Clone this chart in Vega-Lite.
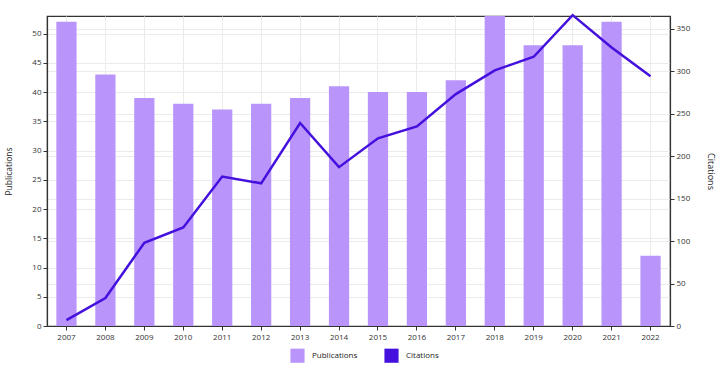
{
  "$schema": "https://vega.github.io/schema/vega-lite/v6.json",
  "width": 623,
  "height": 310,
  "autosize": {"type": "none"},
  "padding": {"left": 47, "top": 16, "right": 50, "bottom": 44},
  "background": "white",
  "config": {
    "font": "Open Sans",
    "view": {"stroke": "#333", "strokeWidth": 1.2},
    "axis": {"labelFont": "Open Sans", "titleFont": "Open Sans", "labelFontSize": 8, "titleFontSize": 9, "titleFontWeight": "normal", "labelColor": "#333", "titleColor": "#222", "domainColor": "#333", "tickColor": "#333", "gridColor": "#ebebeb"}
  },
  "data": {"values": [
    {"year": "2007", "pub": 52, "cit": 7},
    {"year": "2008", "pub": 43, "cit": 33},
    {"year": "2009", "pub": 39, "cit": 98},
    {"year": "2010", "pub": 38, "cit": 116},
    {"year": "2011", "pub": 37, "cit": 176},
    {"year": "2012", "pub": 38, "cit": 168},
    {"year": "2013", "pub": 39, "cit": 239},
    {"year": "2014", "pub": 41, "cit": 187},
    {"year": "2015", "pub": 40, "cit": 221},
    {"year": "2016", "pub": 40, "cit": 235},
    {"year": "2017", "pub": 42, "cit": 273},
    {"year": "2018", "pub": 55, "cit": 301},
    {"year": "2019", "pub": 48, "cit": 317},
    {"year": "2020", "pub": 48, "cit": 366},
    {"year": "2021", "pub": 52, "cit": 328},
    {"year": "2022", "pub": 12, "cit": 294}
  ]},
  "encoding": {
    "x": {"field": "year", "type": "ordinal", "scale": {"paddingInner": 0.48, "paddingOuter": 0.24},
      "axis": {"title": null, "labelAngle": 0, "grid": true, "tickSize": 4, "labelPadding": 3, "domainWidth": 1.2}}
  },
  "layer": [
    {
      "mark": {"type": "bar", "clip": true},
      "encoding": {
        "y": {"field": "pub", "type": "quantitative", "scale": {"domain": [0, 53], "nice": false},
          "axis": {"title": "Publications", "values": [0,5,10,15,20,25,30,35,40,45,50], "grid": true, "titlePadding": 18, "titleFontSize": 8.5, "tickSize": 4, "domainWidth": 1.2}},
        "color": {"datum": "Publications", "type": "nominal",
          "scale": {"domain": ["Publications", "Citations"], "range": ["#b995fb", "#4410dd"]},
          "legend": {"title": null, "orient": "none", "legendX": 243, "legendY": 332, "direction": "horizontal",
            "symbolType": "square", "symbolSize": 200, "symbolStrokeWidth": 0, "labelFontSize": 8, "labelColor": "#222", "columnPadding": 26, "labelOffset": 7,
            "encode": {"symbols": {"update": {"fill": {"scale": "color", "field": "value"}, "strokeWidth": {"value": 0}, "opacity": {"value": 1}}}}}}
      }
    },
    {
      "mark": {"type": "line", "strokeWidth": 2.5, "clip": false},
      "encoding": {
        "y": {"field": "cit", "type": "quantitative", "scale": {"domain": [0, 365], "nice": false},
          "axis": {"title": "Citations", "orient": "right", "values": [0,50,100,150,200,250,300,350], "grid": true, "titleAngle": 90, "titlePadding": 16, "tickSize": 4, "domainWidth": 1.2}},
        "color": {"datum": "Citations", "type": "nominal"}
      }
    }
  ],
  "resolve": {"scale": {"y": "independent"}}
}
